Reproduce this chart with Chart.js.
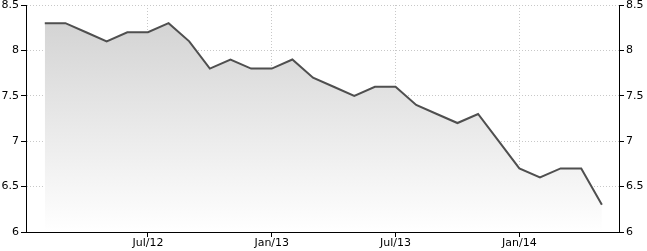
<!DOCTYPE html>
<html>
<head>
<meta charset="utf-8">
<script src="https://cdn.jsdelivr.net/npm/chart.js@4"></script>
<style>
    html, body { margin: 0; padding: 0; background: #fff; }
    #wrap { width: 647px; height: 251px; }
</style>
</head>
<body>
<div id="wrap"><canvas id="rate-chart" width="647" height="251"></canvas></div>
<script>
// Monthly values
const months = [
    '2012-02', '2012-03', '2012-04', '2012-05', '2012-06', '2012-07', '2012-08',
    '2012-09', '2012-10', '2012-11', '2012-12', '2013-01', '2013-02', '2013-03',
    '2013-04', '2013-05', '2013-06', '2013-07', '2013-08', '2013-09', '2013-10',
    '2013-11', '2013-12', '2014-01', '2014-02', '2014-03', '2014-04', '2014-05'
];
const rates = [
    8.3, 8.3, 8.2, 8.1, 8.2, 8.2, 8.3,
    8.1, 7.8, 7.9, 7.8, 7.8, 7.9, 7.7,
    7.6, 7.5, 7.6, 7.6, 7.4, 7.3, 7.2,
    7.3, 7.0, 6.7, 6.6, 6.7, 6.7, 6.3
];
const tickMonths = ['2012-07', '2013-01', '2013-07', '2014-01'];
const tickLabels = ['Jul/12', 'Jan/13', 'Jul/13', 'Jan/14'];
const yTicks = [6, 6.5, 7, 7.5, 8, 8.5];

// month string -> months since Jan 2012
function monthIndex(m) {
    const [y, mo] = m.split('-').map(Number);
    return (y - 2012) * 12 + (mo - 1);
}

const points = months.map((m, i) => ({ x: monthIndex(m), y: rates[i] }));
const tickValues = tickMonths.map(monthIndex);

const FONT = { family: 'DejaVu Sans', size: 11 };

function fixSize(prop, size) {
    return scale => {
        scale[prop] = size;
        scale.paddingTop = 0;
        scale.paddingBottom = 0;
        scale.paddingLeft = 0;
        scale.paddingRight = 0;
    };
}

function yAxis(position, width, onArea) {
    return {
        type: 'linear',
        position: position,
        min: 6,
        max: 8.5,
        afterBuildTicks: scale => { scale.ticks = yTicks.map(v => ({ value: v })); },
        afterFit: fixSize('width', width),
        ticks: {
            color: '#000',
            font: FONT,
            padding: 2,
            callback: v => String(v)
        },
        grid: {
            drawOnChartArea: onArea,
            color: '#c8c8c8',
            lineWidth: 1,
            tickLength: 5,
            tickColor: '#000',
            tickWidth: 1,
            tickBorderDash: []
        },
        border: { display: true, color: '#000', width: 1, dash: [1, 2] }
    };
}

const ctx = document.getElementById('rate-chart').getContext('2d');
new Chart(ctx, {
    type: 'line',
    data: {
        datasets: [{
            data: points,
            borderColor: '#4f4f4f',
            borderWidth: 2,
            pointRadius: 0,
            tension: 0,
            fill: 'start',
            backgroundColor: (context) => {
                const area = context.chart.chartArea;
                if (!area) return '#e0e0e0';
                const g = context.chart.ctx.createLinearGradient(0, area.top, 0, area.bottom);
                g.addColorStop(0, '#d0d0d0');
                g.addColorStop(1, '#ffffff');
                return g;
            }
        }]
    },
    options: {
        responsive: false,
        animation: false,
        devicePixelRatio: 1,
        layout: { padding: { top: 5, left: 0, right: 0, bottom: 0 } },
        plugins: {
            legend: { display: false },
            tooltip: { enabled: false }
        },
        scales: {
            x: {
                type: 'linear',
                min: 0.09,
                max: 28.83,
                afterBuildTicks: scale => { scale.ticks = tickValues.map(v => ({ value: v })); },
                afterFit: fixSize('height', 19),
                ticks: {
                    color: '#000',
                    font: FONT,
                    padding: 0,
                    maxRotation: 0,
                    callback: v => tickLabels[tickValues.indexOf(v)] || ''
                },
                grid: {
                    color: '#c8c8c8',
                    lineWidth: 1,
                    tickLength: 5,
                    tickColor: '#000',
                    tickWidth: 1,
                    tickBorderDash: []
                },
                border: { display: true, color: '#000', width: 1, dash: [1, 2] }
            },
            y: yAxis('left', 26, true),
            y2: yAxis('right', 28, false)
        }
    }
});
</script>
</body>
</html>
